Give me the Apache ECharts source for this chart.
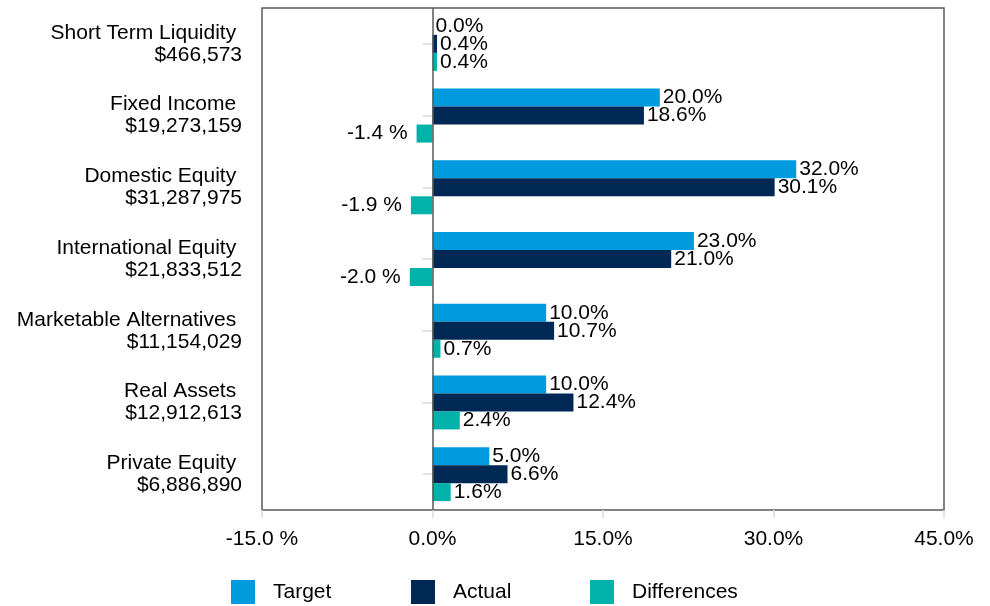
<!DOCTYPE html>
<html><head><meta charset="utf-8">
<script src="https://cdn.jsdelivr.net/npm/echarts@6/dist/echarts.min.js"></script>
<style>html,body{margin:0;padding:0;background:#fff}#c{width:990px;height:606px}</style>
</head><body><div id="c"></div>
<script>
const categories = ["Short Term Liquidity ", "Fixed Income ", "Domestic Equity ", "International Equity ", "Marketable Alternatives ", "Real Assets ", "Private Equity "];
const amounts = ["$466,573", "$19,273,159", "$31,287,975", "$21,833,512", "$11,154,029", "$12,912,613", "$6,886,890"];
const target = [0.0, 20.0, 32.0, 23.0, 10.0, 10.0, 5.0];
const actual = [0.4, 18.6, 30.1, 21.0, 10.7, 12.4, 6.6];
const differences = [0.4, -1.4, -1.9, -2.0, 0.7, 2.4, 1.6];
const xTicks = [-15, 0, 15, 30, 45];
const seriesNames = ['Target', 'Actual', 'Differences'];

const FONT = '"Liberation Sans", Arial, sans-serif';
const FS = 21;
function pct(v){ return v < 0 ? v.toFixed(1) + ' %' : v.toFixed(1) + '%'; }
function labelFor(vals){
  return vals.map(v => ({
    value: v,
    label: {
      show: true,
      position: v < 0 ? 'left' : 'right',
      distance: v < 0 ? 9 : 3,
      formatter: p => pct(p.value),
      color: '#000', fontSize: FS, fontFamily: FONT
    }
  }));
}
const legendLefts = [231, 411, 590];
const chart = echarts.init(document.getElementById('c'), null, {renderer:'canvas'});
chart.setOption({
  animation: false,
  backgroundColor: '#fff',
  grid: { left: 262, right: 46, top: 8, bottom: 96, show: true, borderColor: '#595959', borderWidth: 1.5, containLabel: false },
  xAxis: {
    type: 'value', min: xTicks[0], max: xTicks[xTicks.length-1], interval: 15,
    axisLine: { show: false },
    axisTick: { show: true, length: 8, lineStyle: { color: '#d9d9d9', width: 1.5 } },
    splitLine: { show: false },
    axisLabel: { formatter: v => pct(v), color: '#000', fontSize: FS, fontFamily: FONT, margin: 19 }
  },
  yAxis: {
    type: 'category', inverse: true,
    data: categories.map((c, i) => c + '\n' + amounts[i]),
    axisLine: { show: false },
    axisTick: { show: true, alignWithLabel: true, length: 10, lineStyle: { color: '#d9d9d9', width: 1.5 } },
    axisLabel: { color: '#000', fontSize: FS, fontFamily: FONT, lineHeight: 22, margin: 20, align: 'right' }
  },
  legend: seriesNames.map((n, i) => ({
    bottom: 2, left: legendLefts[i], padding: 0, itemWidth: 24, itemHeight: 24,
    icon: 'rect',
    textStyle: { color: '#000', fontSize: FS, fontFamily: FONT, padding: [0,0,0,13] },
    data: [n]
  })),
  series: [
    { name: 'Target', type: 'bar', barWidth: 18, barGap: '0%', itemStyle: { color: '#009ADE' }, data: labelFor(target),
      markLine: { silent: true, symbol: 'none', label: { show: false }, lineStyle: { color: '#595959', width: 1.5, type: 'solid' }, data: [{ xAxis: 0 }] } },
    { name: 'Actual', type: 'bar', barWidth: 18, barGap: '0%', itemStyle: { color: '#002855' }, data: labelFor(actual) },
    { name: 'Differences', type: 'bar', barWidth: 18, barGap: '0%', itemStyle: { color: '#00B2A9' }, data: labelFor(differences) }
  ]
});
</script></body></html>
